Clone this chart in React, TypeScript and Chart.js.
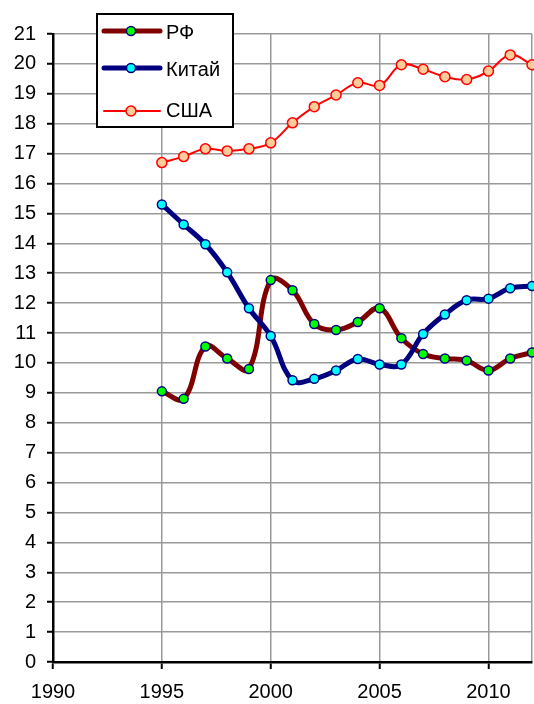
import React, { useEffect, useRef } from "react";
import { Chart, registerables } from "chart.js";

Chart.register(...registerables);

const years = [1995, 1996, 1997, 1998, 1999, 2000, 2001, 2002, 2003, 2004, 2005, 2006, 2007, 2008, 2009, 2010, 2011, 2012];
const rfValues = [9.05, 8.8, 10.55, 10.15, 9.8, 12.77, 12.43, 11.3, 11.1, 11.37, 11.83, 10.83, 10.3, 10.15, 10.08, 9.75, 10.15, 10.35];
const chinaValues = [15.3, 14.63, 13.97, 13.03, 11.83, 10.9, 9.42, 9.47, 9.75, 10.13, 9.95, 9.95, 10.97, 11.62, 12.1, 12.15, 12.5, 12.57];
const usaValues = [16.7, 16.9, 17.16, 17.09, 17.16, 17.36, 18.03, 18.57, 18.96, 19.37, 19.28, 19.97, 19.82, 19.57, 19.48, 19.76, 20.3, 19.97];
const seriesLabels = ["РФ", "Китай", "США"];
const xTicks = [1990, 1995, 2000, 2005, 2010, 2012];
const xMin = 1990;
const xMax = 2012;
const yMin = 0;
const yMax = 21;

const FONT = "'Liberation Sans', Arial, sans-serif";

const toPoints = (vals: number[]) => years.map((x, i) => ({ x, y: vals[i] }));

const legendPlugin = {
  id: "boxLegend",
  afterDraw(chart: any) {
    const ctx = chart.ctx;
    ctx.save();
    ctx.fillStyle = "#ffffff";
    ctx.fillRect(97, 14, 136, 113);
    ctx.strokeStyle = "#000000";
    ctx.lineWidth = 2;
    ctx.strokeRect(97, 14, 136, 113);
    const rows = [
      { ds: 0, ly: 31, ty: 33 },
      { ds: 1, ly: 68, ty: 70 },
      { ds: 2, ly: 111, ty: 111 },
    ];
    rows.forEach((r) => {
      const d = chart.data.datasets[r.ds];
      ctx.strokeStyle = d.borderColor;
      ctx.lineWidth = d.borderWidth;
      ctx.lineCap = "round";
      ctx.beginPath();
      ctx.moveTo(104, r.ly);
      ctx.lineTo(160, r.ly);
      ctx.stroke();
      ctx.beginPath();
      ctx.arc(131, r.ly, d.pointRadius, 0, Math.PI * 2);
      ctx.fillStyle = d.pointBackgroundColor;
      ctx.fill();
      ctx.lineWidth = d.pointBorderWidth;
      ctx.strokeStyle = d.pointBorderColor;
      ctx.stroke();
      ctx.fillStyle = "#000000";
      ctx.font = `20px ${FONT}`;
      ctx.textAlign = "left";
      ctx.textBaseline = "middle";
      ctx.fillText(d.label, 166, r.ty);
    });
    ctx.restore();
  },
};

export default function App() {
  const ref = useRef<HTMLCanvasElement | null>(null);
  useEffect(() => {
    document.body.style.margin = "0";
    if (!ref.current) return;
    const chart = new Chart(ref.current, {
      type: "line",
      data: {
        datasets: [
          {
            label: seriesLabels[0],
            data: toPoints(rfValues),
            borderColor: "#800000",
            borderWidth: 5,
            pointRadius: 4.5,
            pointBackgroundColor: "#00ff00",
            pointBorderColor: "#000080",
            pointBorderWidth: 1.5,
            tension: 0.4,
            clip: false,
            order: 2,
          } as any,
          {
            label: seriesLabels[1],
            data: toPoints(chinaValues),
            borderColor: "#000080",
            borderWidth: 5,
            pointRadius: 4.5,
            pointBackgroundColor: "#00ffff",
            pointBorderColor: "#000080",
            pointBorderWidth: 1.5,
            tension: 0.4,
            clip: false,
            order: 1,
          },
          {
            label: seriesLabels[2],
            data: toPoints(usaValues),
            borderColor: "#ff0000",
            borderWidth: 2,
            pointRadius: 5,
            pointBackgroundColor: "#ffcc99",
            pointBorderColor: "#ff0000",
            pointBorderWidth: 1.5,
            tension: 0.4,
            clip: false,
            order: 0,
          },
        ],
      },
      options: {
        responsive: false,
        animation: false,
        layout: { autoPadding: false, padding: { top: 34, right: 2, left: 0, bottom: 0 } },
        plugins: {
          legend: { display: false },
          tooltip: { enabled: false },
        },
        scales: {
          x: {
            type: "linear",
            min: xMin,
            max: xMax,
            afterBuildTicks: (s: any) => {
              s.ticks = xTicks.map((value) => ({ value }));
            },
            afterFit: (s: any) => {
              s.height = 42;
              s.paddingLeft = 0;
              s.paddingRight = 0;
            },
            ticks: {
              autoSkip: false,
              color: "#000000",
              font: { family: FONT, size: 20 },
              padding: 11,
              maxRotation: 0,
              callback: (v: any) => (v === xMax ? "" : String(v)),
            },
            grid: {
              color: "#999999",
              lineWidth: 1.5,
              tickLength: 7,
              tickWidth: 2,
              tickColor: (c: any) => (c.tick && c.tick.value === xMax ? "rgba(0,0,0,0)" : "#000000"),
            },
            border: { color: "#000000", width: 2.5 },
          },
          y: {
            type: "linear",
            min: yMin,
            max: yMax,
            afterFit: (s: any) => {
              s.width = 53;
            },
            ticks: {
              stepSize: 1,
              color: "#000000",
              font: { family: FONT, size: 20 },
              padding: 11,
              callback: (v: any) => String(v),
            },
            grid: {
              color: "#999999",
              lineWidth: 1.5,
              tickLength: 6,
              tickWidth: 2,
              tickColor: "#000000",
            },
            border: { color: "#000000", width: 2.5 },
          },
        },
      },
      plugins: [legendPlugin],
    });
    return () => chart.destroy();
  }, []);
  return (
    <div style={{ position: "absolute", left: 0, top: 0, width: 534, height: 704 }}>
      <canvas ref={ref} width={534} height={704} />
    </div>
  );
}
